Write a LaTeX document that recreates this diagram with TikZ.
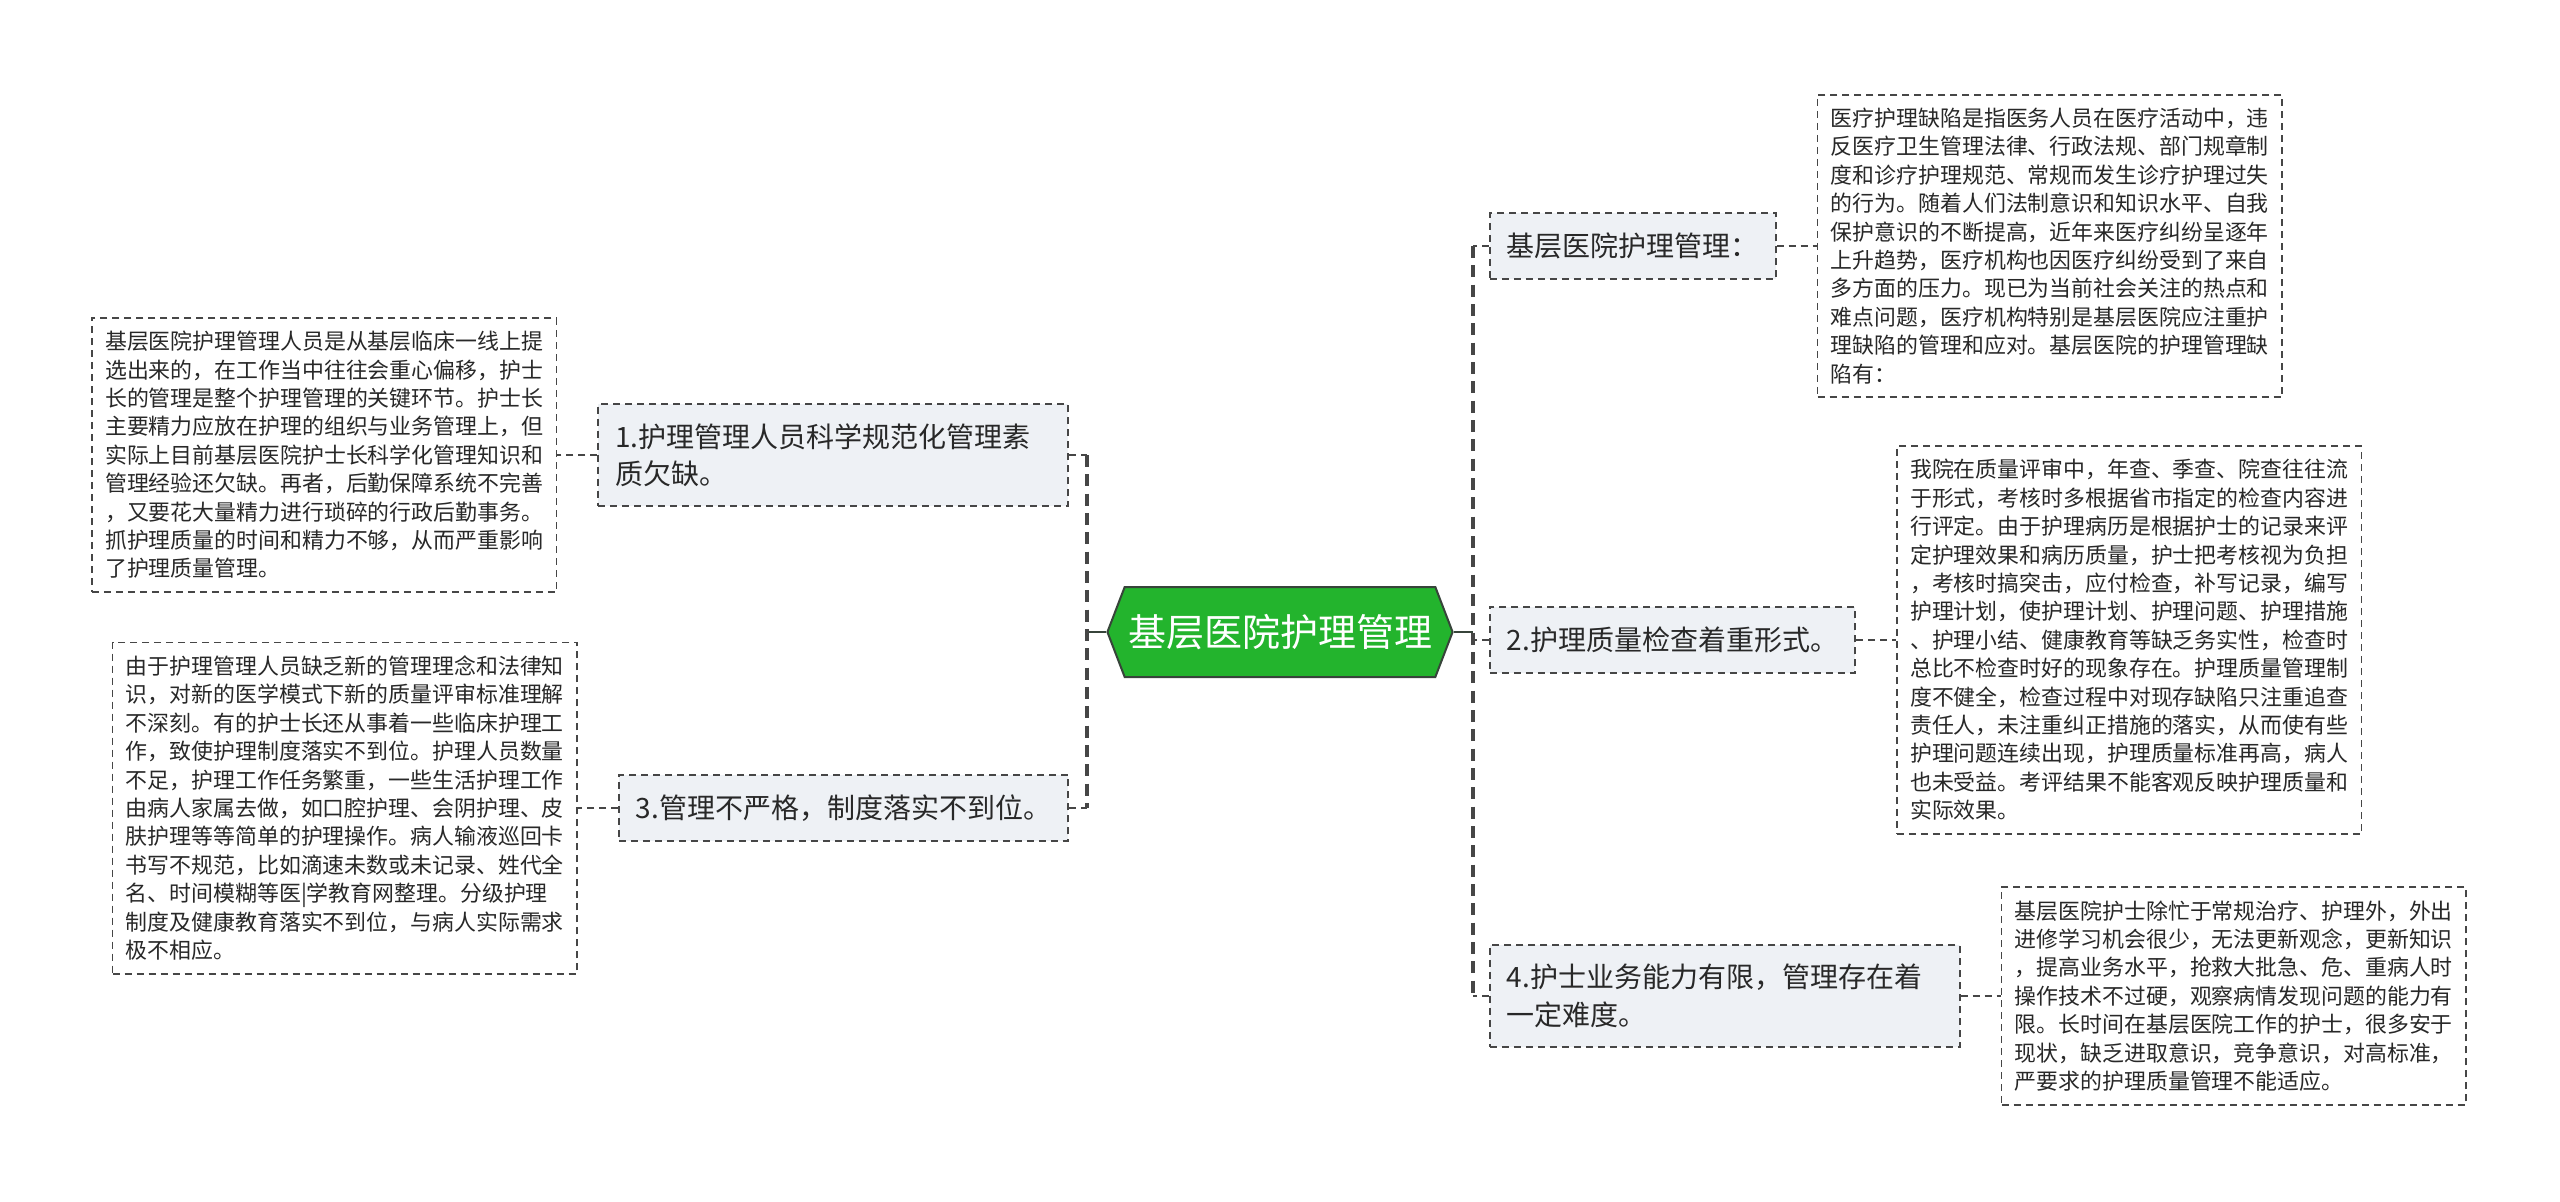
\documentclass[tikz,border=0pt]{standalone}
\usepackage{fontspec}
\setmainfont{Noto Sans CJK SC}
\usepackage{tikz}
\usetikzlibrary{positioning,shapes.symbols}
\definecolor{cRoot}{RGB}{35,180,45}
\definecolor{cRootLine}{RGB}{55,68,58}
\definecolor{cTopic}{RGB}{238,241,245}
\definecolor{cLine}{RGB}{70,70,70}
\definecolor{cText}{RGB}{40,40,40}
\tikzset{
  root/.style={signal, signal to=west and east, signal pointer angle=138,
               fill=cRoot, draw=cRootLine, line width=0.6pt, text=white,
               minimum height=27pt, minimum width=102pt, inner xsep=1pt,
               font=\fontsize{11.4pt}{13pt}\selectfont},
  topic/.style={draw=cLine, fill=cTopic, line width=0.5pt, dash pattern=on 2.1pt off 1.5pt,
               text=cText, align=left, inner xsep=5.1pt, inner ysep=5.7pt,
               minimum height=19.8pt, font=\fontsize{8.4pt}{11.25pt}\selectfont},
  topicw/.style={topic, text width=130.8pt},
  note/.style={draw=cLine, fill=white, line width=0.5pt, dash pattern=on 2.1pt off 1.5pt,
               text=cText, align=left, text width=131.4pt, inner sep=4pt,
               font=\fontsize{6.57pt}{8.52pt}\selectfont},
  spine/.style={draw=cLine, line width=1.1pt, dash pattern=on 3.6pt off 2.2pt},
  link/.style={draw=cLine, line width=0.5pt, dash pattern=on 2.1pt off 1.5pt},
  stem/.style={draw=cRootLine, line width=0.8pt},
}

\begin{document}
\begin{tikzpicture}[x=0.3pt, y=-0.3pt, node distance=12pt]
  \useasboundingbox (0,0) rectangle (2560,1201);
  \node[root] (root) at (1280,632) {基层医院护理管理};
  \coordinate (lj) at (1087,632);
  \coordinate (rj) at (1473,632);

  \node[topicw, anchor=east] (b1) at (1069,455) {1.护理管理人员科学规范化管理素\\质欠缺。};
  \node[topic, anchor=east]  (b3) at (1069,808) {3.管理不严格，制度落实不到位。};
  \node[topic, anchor=west]  (r1) at (1489,246) {基层医院护理管理：};
  \node[topic, anchor=west]  (r2) at (1489,640) {2.护理质量检查着重形式。};
  \node[topicw, anchor=west] (r4) at (1489,996) {4.护士业务能力有限，管理存在着\\一定难度。};

  \node[note, left=of b1] (n1) {基层医院护理管理人员是从基层临床一线上提\\选出来的，在工作当中往往会重心偏移，护士\\长的管理是整个护理管理的关键环节。护士长\\主要精力应放在护理的组织与业务管理上，但\\实际上目前基层医院护士长科学化管理知识和\\管理经验还欠缺。再者，后勤保障系统不完善\\，又要花大量精力进行琐碎的行政后勤事务。\\抓护理质量的时间和精力不够，从而严重影响\\了护理质量管理。};
  \node[note, left=of b3] (n3) {由于护理管理人员缺乏新的管理理念和法律知\\识，对新的医学模式下新的质量评审标准理解\\不深刻。有的护士长还从事着一些临床护理工\\作，致使护理制度落实不到位。护理人员数量\\不足，护理工作任务繁重，一些生活护理工作\\由病人家属去做，如口腔护理、会阴护理、皮\\肤护理等等简单的护理操作。病人输液巡回卡\\书写不规范，比如滴速未数或未记录、姓代全\\名、时间模糊等医|学教育网整理。分级护理\\制度及健康教育落实不到位，与病人实际需求\\极不相应。};
  \node[note, right=of r1] (m1) {医疗护理缺陷是指医务人员在医疗活动中，违\\反医疗卫生管理法律、行政法规、部门规章制\\度和诊疗护理规范、常规而发生诊疗护理过失\\的行为。随着人们法制意识和知识水平、自我\\保护意识的不断提高，近年来医疗纠纷呈逐年\\上升趋势，医疗机构也因医疗纠纷受到了来自\\多方面的压力。现已为当前社会关注的热点和\\难点问题，医疗机构特别是基层医院应注重护\\理缺陷的管理和应对。基层医院的护理管理缺\\陷有：};
  \node[note, right=of r2] (m2) {我院在质量评审中，年查、季查、院查往往流\\于形式，考核时多根据省市指定的检查内容进\\行评定。由于护理病历是根据护士的记录来评\\定护理效果和病历质量，护士把考核视为负担\\，考核时搞突击，应付检查，补写记录，编写\\护理计划，使护理计划、护理问题、护理措施\\、护理小结、健康教育等缺乏务实性，检查时\\总比不检查时好的现象存在。护理质量管理制\\度不健全，检查过程中对现存缺陷只注重追查\\责任人，未注重纠正措施的落实，从而使有些\\护理问题连续出现，护理质量标准再高，病人\\也未受益。考评结果不能客观反映护理质量和\\实际效果。};
  \node[note, right=of r4] (m4) {基层医院护士除忙于常规治疗、护理外，外出\\进修学习机会很少，无法更新观念，更新知识\\，提高业务水平，抢救大批急、危、重病人时\\操作技术不过硬，观察病情发现问题的能力有\\限。长时间在基层医院工作的护士，很多安于\\现状，缺乏进取意识，竞争意识，对高标准，\\严要求的护理质量管理不能适应。};

  \draw[stem] (root.west) -- (lj); \draw[stem] (root.east) -- (rj);
  \draw[spine] (lj |- b1.east) -- (lj |- b3.east);
  \draw[spine] (rj |- r1.west) -- (rj |- r4.west);
  \draw[link] (b1.east) -- (lj |- b1.east); \draw[link] (b3.east) -- (lj |- b3.east);
  \draw[link] (r1.west) -- (rj |- r1.west); \draw[link] (r2.west) -- (rj |- r2.west);
  \draw[link] (r4.west) -- (rj |- r4.west);
  \draw[link] (b1) -- (n1); \draw[link] (b3) -- (n3);
  \draw[link] (r1) -- (m1); \draw[link] (r2) -- (m2); \draw[link] (r4) -- (m4);
\end{tikzpicture}
\end{document}
